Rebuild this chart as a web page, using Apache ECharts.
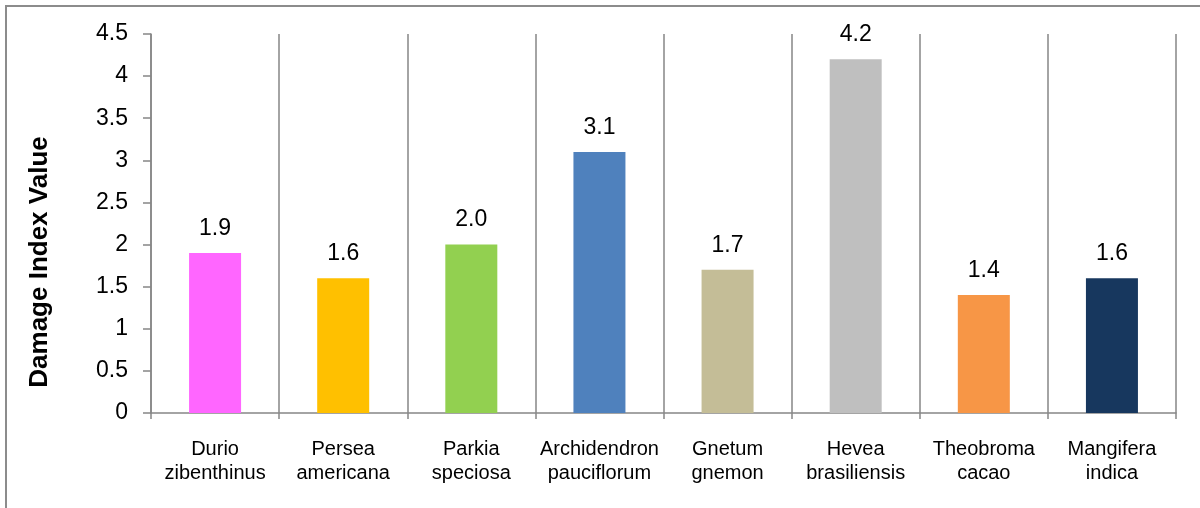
<!DOCTYPE html>
<html>
<head>
<meta charset="utf-8">
<script src="https://cdn.jsdelivr.net/npm/echarts@6/dist/echarts.min.js"></script>
<style>
  html, body { margin: 0; padding: 0; background: #fff; }
  #chart { width: 1200px; height: 508px; }
</style>
</head>
<body>
<div id="chart"></div>
<script>
// species names (two-line labels) and their damage index
const species = ['Durio\nzibenthinus', 'Persea\namericana', 'Parkia\nspeciosa', 'Archidendron\npauciflorum',
  'Gnetum\ngnemon', 'Hevea\nbrasiliensis', 'Theobroma\ncacao', 'Mangifera\nindica']
const damageIndex = [1.9, 1.6, 2.0, 3.1, 1.7, 4.2, 1.4, 1.6]
const barColors = ['#FF66FF', '#FFC000', '#92D050', '#4F81BD', '#C4BD97', '#BFBFBF', '#F79646', '#17375E']

const axisGray = '#868686'
const font = 'Arial, "Liberation Sans", sans-serif'

let chart = echarts.init(document.getElementById('chart'))

let option = {
  animation: false,
  backgroundColor: '#fff',
  graphic: [
    {
      // outer frame, runs off the right and bottom of the picture
      type: 'rect',
      shape: { x: 6, y: 6, width: 1220, height: 540 },
      style: { fill: 'none', stroke: '#8c8c8c', lineWidth: 2 },
      silent: true
    },
    {
      // y axis title
      type: 'text',
      x: 40, y: 262,
      rotation: Math.PI / 2,
      style: {
        text: 'Damage Index Value',
        fill: '#000', fontFamily: font, fontSize: 26, fontWeight: 'bold',
        align: 'center', verticalAlign: 'middle'
      },
      silent: true
    }
  ],
  grid: { left: 151, right: 24, top: 34, bottom: 95 },
  xAxis: {
    type: 'category',
    data: species,
    axisLine: { lineStyle: { color: axisGray, width: 1.5 } },
    axisTick: { show: true, length: 6, lineStyle: { color: axisGray, width: 1.5 } },
    splitLine: { show: true, lineStyle: { color: axisGray, width: 1.5 } },
    axisLabel: {
      color: '#000', fontFamily: font, fontSize: 20, lineHeight: 24,
      margin: 24, interval: 0
    }
  },
  yAxis: {
    type: 'value',
    min: 0, max: 4.5, interval: 0.5,
    axisLine: { show: true, lineStyle: { color: axisGray, width: 1.5 } },
    axisTick: { show: true, length: 8, lineStyle: { color: axisGray, width: 1.5 } },
    splitLine: { show: false },
    axisLabel: { color: '#000', fontFamily: font, fontSize: 23, margin: 23 }
  },
  series: [{
    type: 'bar',
    barWidth: 52,
    data: damageIndex.map((v, i) => ({ value: v, itemStyle: { color: barColors[i] } })),
    label: {
      show: true, position: 'top', distance: 13,
      color: '#000', fontFamily: font, fontSize: 23,
      formatter: p => p.value.toFixed(1)
    }
  }]
}

chart.setOption(option)
</script>
</body>
</html>
